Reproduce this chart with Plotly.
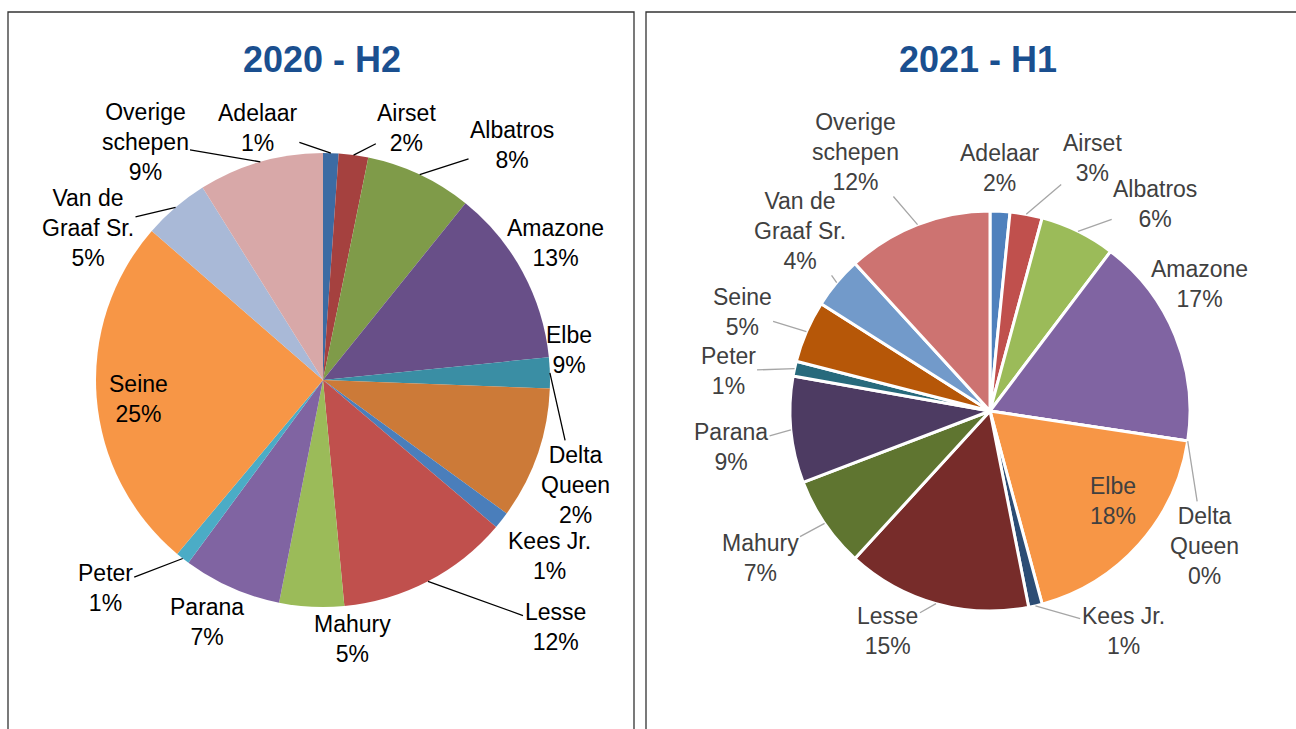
import math
import plotly.graph_objects as go

# ship names in data order (clockwise from 12 o'clock)
ships = ['Adelaar', 'Airset', 'Albatros', 'Amazone', 'Delta Queen', 'Elbe', 'Kees Jr.',
         'Lesse', 'Mahury', 'Parana', 'Peter', 'Seine', 'Van de Graaf Sr.', 'Overige schepen']
ship_labels = ['Adelaar', 'Airset', 'Albatros', 'Amazone', 'Delta<br>Queen', 'Elbe', 'Kees Jr.',
               'Lesse', 'Mahury', 'Parana', 'Peter', 'Seine', 'Van de<br>Graaf Sr.', 'Overige<br>schepen']

# share per ship (%)
share_2020_h2 = [1.1, 2.1, 7.6, 12.6, 2.2, 9.4, 1.2, 12.3, 4.6, 7.0, 1.0, 25.3, 4.7, 8.9]
share_2021_h1 = [1.6, 2.6, 6.1, 17.1, 0.0, 18.4, 1.1, 14.9, 7.4, 8.6, 1.2, 5.0, 4.2, 11.8]

colors_2020 = ['#3c6ba3', '#a5413f', '#7f9b49', '#684f88', '#3a8ea4', '#cc7a38', '#4a7ebb',
               '#c0504d', '#9bbb59', '#8064a2', '#4bacc6', '#f79646', '#a9b9d7', '#d8a8a8']
colors_2021 = ['#4f81bd', '#c0504d', '#9bbb59', '#8064a2', '#4bacc6', '#f79646', '#2c4d75',
               '#772c2a', '#5f7530', '#4d3b62', '#276a7c', '#b65708', '#729aca', '#cd7371']

# label placement: (angle in degrees clockwise from top, distance in pie radii), leader line on/off
labels_2020 = [(345.5, 1.146), (18.4, 1.170), (38.8, 1.329), (59.5, 1.191), (112.6, 1.203),
               (83.0, 1.092), (127.8, 1.265), (136.8, 1.493), (173.6, 1.148), (205.6, 1.182),
               (226.3, 1.327), (264.1, 0.819), (302.9, 1.233), (323.2, 1.309)]
leaders_2020 = [True, True, True, False, True, False, False, True, False, False, True, False, True, True]

labels_2021 = [(2.4, 1.216), (22.0, 1.364), (38.6, 1.324), (58.8, 1.227), (122.2, 1.265),
               (126.2, 0.762), (148.8, 1.285), (204.9, 1.212), (237.4, 1.365), (262.1, 1.307),
               (278.7, 1.325), (291.8, 1.335), (313.5, 1.309), (332.5, 1.46)]
leaders_2021 = [False, True, True, False, True, False, True, True, True, True, True, True, True, True]

W, H = 1296, 729
FONT = 'Liberation Sans, Arial, sans-serif'

pies = [
    dict(title='2020 - H2', values=share_2020_h2, colors=colors_2020, labels=labels_2020,
         leaders=leaders_2020, cx=323, cy=380, r=227, title_x=322, line_w=0,
         text_color='#000000', leader_color='#000000'),
    dict(title='2021 - H1', values=share_2021_h1, colors=colors_2021, labels=labels_2021,
         leaders=leaders_2021, cx=990, cy=411, r=200, title_x=978, line_w=3,
         text_color='#404040', leader_color='#a6a6a6'),
]

fig = go.Figure()
annotations = []

for p in pies:
    cx, cy, r = p['cx'], p['cy'], p['r']
    fig.add_trace(go.Pie(
        labels=ships,
        values=p['values'],
        sort=False,
        direction='clockwise',
        rotation=0,
        textinfo='none',
        hoverinfo='label+percent',
        showlegend=False,
        marker=dict(colors=p['colors'], line=dict(color='white', width=p['line_w'])),
        domain=dict(x=[(cx - r) / W, (cx + r) / W], y=[1 - (cy + r) / H, 1 - (cy - r) / H]),
    ))

    total = sum(p['values'])
    cum = 0
    for i, v in enumerate(p['values']):
        mid = (cum + v / 2) / total * 2 * math.pi
        cum += v
        pct = round(v / total * 100)
        text = f"{ship_labels[i]}<br>{pct}%"
        ang, dist = p['labels'][i]
        a = math.radians(ang)
        lx = cx + dist * r * math.sin(a)
        ly = cy - dist * r * math.cos(a)
        font = dict(family=FONT, size=23, color=p['text_color'])
        if p['leaders'][i]:
            ex = cx + r * math.sin(mid)
            ey = cy - r * math.cos(mid)
            annotations.append(dict(
                x=ex / W, y=1 - ey / H, xref='paper', yref='paper',
                ax=lx - ex, ay=ly - ey, text=text, showarrow=True, arrowhead=0,
                arrowwidth=1.3, arrowcolor=p['leader_color'], standoff=0,
                font=font, align='center'))
        else:
            annotations.append(dict(
                x=lx / W, y=1 - ly / H, xref='paper', yref='paper', text=text,
                showarrow=False, xanchor='center', yanchor='middle', font=font, align='center'))

    annotations.append(dict(
        x=p['title_x'] / W, y=1 - 60 / H, xref='paper', yref='paper', text=f"<b>{p['title']}</b>",
        showarrow=False, xanchor='center', yanchor='middle',
        font=dict(family=FONT, size=36, color='#1a4f8f')))

shapes = [
    dict(type='rect', xref='paper', yref='paper', x0=8 / W, x1=634 / W, y0=-0.05, y1=1 - 12 / H,
         line=dict(color='#333333', width=1.3)),
    dict(type='rect', xref='paper', yref='paper', x0=646 / W, x1=1.05, y0=-0.05, y1=1 - 12 / H,
         line=dict(color='#333333', width=1.3)),
]

fig.update_layout(
    width=W, height=H,
    margin=dict(l=0, r=0, t=0, b=0),
    paper_bgcolor='white',
    plot_bgcolor='white',
    annotations=annotations,
    shapes=shapes,
)

# drop the browser's default body margin so the figure sits at the page origin
fig.write_html("out.html", config={'displayModeBar': False},
               post_script="document.body.style.margin='0px';")
